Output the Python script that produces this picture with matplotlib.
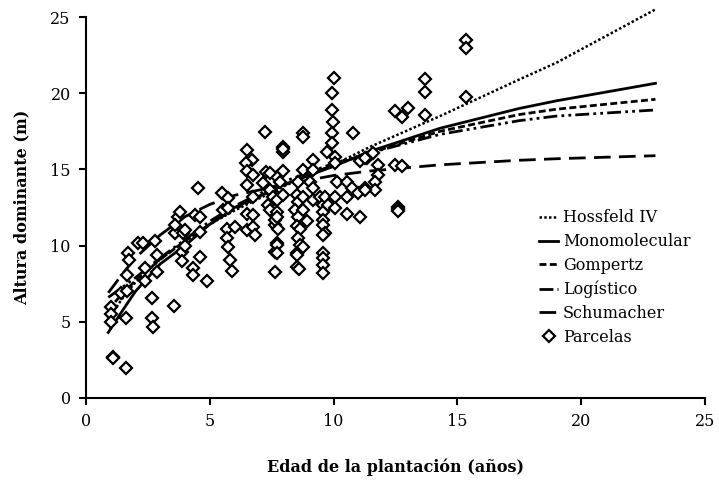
import numpy as np
import matplotlib.pyplot as plt

# Curvas ajustadas
curva_x = [0.9, 1.5, 2, 3, 4, 5, 6, 8, 10, 11.5, 14.3, 17.5, 19, 23]
hossfeld = [5.2, 6.6, 7.6, 9.1, 10.3, 11.4, 12.3, 13.9, 15.3, 16.5, 18.5, 20.9, 22.0, 25.5]
monomolecular = [4.3, 5.8, 7.0, 8.8, 10.0, 11.4, 12.5, 14.0, 15.2, 16.2, 17.7, 19.0, 19.5, 20.65]
gompertz = [5.8, 6.9, 7.7, 9.1, 10.3, 11.4, 12.4, 14.0, 15.3, 16.1, 17.5, 18.6, 18.95, 19.6]
logistico = [6.6, 7.3, 7.9, 9.2, 10.4, 11.6, 12.6, 14.2, 15.4, 16.1, 17.3, 18.2, 18.5, 18.9]
schumacher = [6.9, 8.2, 9.2, 10.7, 11.9, 12.7, 13.3, 14.0, 14.6, 14.9, 15.3, 15.6, 15.7, 15.9]

# Parcelas observadas
edad = [1.0, 1.0, 1.0, 1.1, 1.1, 1.62, 1.62, 1.4, 1.64, 1.64, 1.71, 1.75, 2.11, 2.38, 2.38,
        2.85, 2.65, 2.65, 2.72, 3.55, 2.3, 2.8, 2.85, 3.59, 3.93, 3.86, 3.86, 3.73, 3.59,
        4.33, 4.33, 4.9, 4.0, 4.0, 4.4, 4.6, 4.6, 4.6, 3.8, 4.54,
        5.48, 5.75, 5.54, 5.75, 5.68, 6.02, 5.68, 5.75, 5.82, 5.88,
        6.49, 6.69, 6.46, 6.49, 6.76, 6.49, 6.76, 6.49, 6.76, 6.49, 6.76, 6.83,
        7.23, 7.27, 7.16, 7.43, 7.7, 7.7, 7.36, 7.43, 7.7, 7.43, 7.63, 7.63, 7.63, 7.7,
        7.77, 7.63, 7.7, 7.7, 7.7, 7.57, 7.7, 7.84,
        7.97, 7.97, 7.97, 7.97, 7.97,
        8.51, 8.57, 8.57, 8.44, 8.78, 8.57, 8.51, 8.91, 8.64, 8.57, 8.64, 8.51, 8.51, 8.6,
        8.51, 8.78, 8.78, 8.78, 8.78, 8.78,
        9.05, 9.18, 9.18, 9.18, 9.18, 9.45, 9.58, 9.58, 9.58, 9.58, 9.65, 9.58, 9.58, 9.58,
        9.58, 9.58, 9.65, 9.78, 9.72,
        9.92, 9.99, 9.92, 9.92, 10.06, 10.06, 10.02, 9.94, 10.13, 10.06, 10.06,
        10.53, 10.73, 10.53, 10.53, 10.8, 11.07, 11.34, 11.27, 11.0, 11.07, 11.27, 11.6,
        11.8, 11.8, 11.67, 11.67, 11.27,
        12.48, 12.75, 12.62, 12.62, 12.62, 12.48, 12.75, 13.02, 13.69, 13.69, 13.69,
        15.35, 15.35, 15.35]
altura = [6.0, 5.5, 5.0, 2.7, 2.6, 1.95, 5.27, 6.87, 7.0, 8.07, 9.49, 9.06, 10.15, 8.5, 7.7,
          8.25, 6.54, 5.23, 4.68, 6.04, 10.2, 10.3, 9.4, 10.8, 10.8, 9.6, 9.0, 11.9, 11.35,
          8.5, 8.07, 7.7, 11.0, 10.0, 12.0, 11.9, 10.9, 9.27, 12.2, 13.76,
          13.43, 13.1, 12.34, 12.45, 11.1, 11.2, 10.48, 9.93, 9.06, 8.33,
          16.27, 15.6, 15.4, 14.87, 14.63, 13.98, 13.2, 12.1, 12.0, 11.0, 11.2, 10.7,
          17.47, 14.8, 14.08, 13.65, 13.2, 14.5, 12.66, 12.34, 12.2, 14.74, 11.35, 9.6, 8.29, 10.15,
          11.1, 11.68, 11.9, 10.04, 9.49, 13.2, 12.99, 14.2,
          16.5, 16.17, 16.33, 14.87, 13.32,
          13.32, 14.2, 12.88, 12.34, 12.34, 11.9, 11.26, 11.6, 11.1, 10.48, 10.04, 9.49, 8.62, 8.45,
          9.38, 9.93, 14.96, 13.2, 17.37, 17.1,
          14.2, 13.76, 12.99, 15.6, 14.96, 13.2, 12.66, 12.2, 11.68, 11.35, 10.8, 10.7, 9.49, 9.17,
          8.73, 8.18, 13.2, 12.66, 16.17,
          18.9, 18.14, 17.37, 16.75, 15.83, 15.4, 21.0, 20.0, 14.2, 13.2, 12.45,
          14.2, 13.76, 13.2, 12.1, 17.37, 15.53, 15.75, 13.76, 13.43, 11.85, 15.75, 16.06,
          15.29, 14.63, 14.2, 13.65, 13.65,
          15.29, 15.2, 12.55, 12.4, 12.25, 18.8, 18.46, 19.0, 18.6, 20.1, 20.95,
          23.5, 22.95, 19.78]

plt.rcParams['font.family'] = ['DejaVu Serif']
plt.rcParams['font.size'] = 11.5

fig = plt.figure(figsize=(7.19, 4.82), dpi=100)
ax = fig.add_axes([0.1196, 0.1743, 0.8609, 0.7904])

ax.plot(curva_x, hossfeld, color='black', lw=1.8, linestyle=(0, (1, 0.9)), label='Hossfeld IV', clip_on=False)
ax.plot(curva_x, monomolecular, color='black', lw=2, linestyle='-', label='Monomolecular', clip_on=False)
ax.plot(curva_x, gompertz, color='black', lw=2, linestyle=(0, (2.5, 1.2)), label='Gompertz', clip_on=False)
ax.plot(curva_x, logistico, color='black', lw=2, linestyle=(0, (5, 1.5, 1, 1.5, 1, 1.5)), label='Logístico', clip_on=False)
ax.plot(curva_x, schumacher, color='black', lw=2, linestyle=(0, (6, 3)), label='Schumacher', clip_on=False)
ax.plot(edad, altura, linestyle='none', marker='D', markersize=6, markerfacecolor='white',
        markeredgecolor='black', markeredgewidth=1.6, label='Parcelas')

ax.set_xlim(0, 25)
ax.set_ylim(0, 25)
ax.set_xticks([0, 5, 10, 15, 20, 25])
ax.set_yticks([0, 5, 10, 15, 20, 25])
ax.spines['top'].set_visible(False)
ax.spines['right'].set_visible(False)
ax.spines['left'].set_linewidth(1.5)
ax.spines['bottom'].set_linewidth(1.5)
ax.tick_params(direction='out', length=5, width=1.5, pad=6)

ax.set_xlabel('Edad de la plantación (años)', fontweight='bold', labelpad=20)
ax.set_ylabel('Altura dominante (m)', fontweight='bold', labelpad=14)

ax.legend(loc='lower right', bbox_to_anchor=(1.0, 0.1), frameon=False, handlelength=1.2,
          handletextpad=0.3, labelspacing=0.42, fontsize=11.5)

fig.savefig('out.png', dpi=100)
